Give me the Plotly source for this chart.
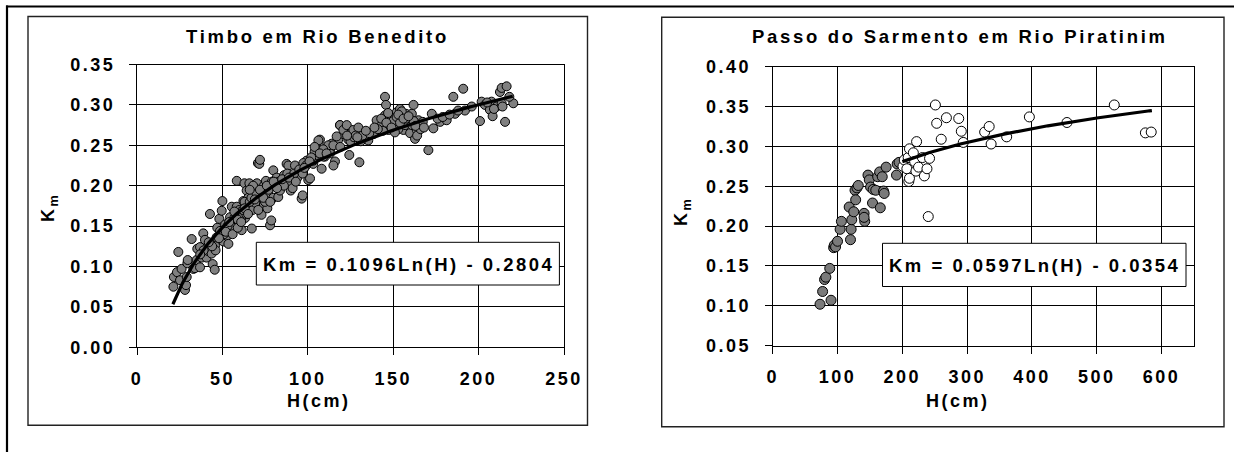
import numpy as np
import plotly.graph_objects as go

W, H = 1234, 452

# ---------------- Left chart: Timbo em Rio Benedito ----------------
left_h = [21.3, 21.6, 23.4, 24.2, 25.2, 26.1, 28.1, 28.7, 29.1, 29.5, 29.7, 32.0, 33.0, 33.9, 34.9,
          35.3, 36.9, 36.9, 37.9, 38.8, 39.8, 40.7, 41.7, 42.7, 43.7, 44.3, 45.5, 45.7, 46.6, 47.0,
          48.2, 48.6, 50.0, 49.6, 50.6, 51.6, 52.6, 53.5, 54.5, 55.5, 56.0, 56.8, 58.4, 58.4, 59.4,
          60.3, 61.3, 62.3, 62.9, 63.3, 64.2, 64.6, 65.2, 65.8, 67.2, 67.8, 68.6, 69.2, 70.2, 70.8,
          71.6, 72.0, 72.0, 72.9, 73.9, 74.3, 75.5, 76.3, 76.9, 77.9, 78.6, 79.8, 79.8, 80.8, 81.8,
          82.7, 83.7, 84.7, 86.1, 87.6, 88.6, 89.2, 90.0, 91.1, 91.5, 92.5, 93.9, 96.4, 97.0, 99.3,
          100.3, 103.2, 104.2, 106.1, 107.1, 108.1, 110.0, 113.0, 115.9, 117.8, 118.8, 120.8, 123.7,
          97.4, 101.3, 103.2, 106.2, 106.2, 109.1, 111.1, 114.0, 115.0, 116.9, 118.9, 120.8, 122.8,
          124.3, 124.7, 126.7, 129.6, 130.2, 133.5, 135.4, 138.4, 140.3, 142.3, 145.2, 145.8, 145.2,
          146.2, 147.2, 149.1, 150.1, 152.1, 153.0, 154.0, 155.0, 156.0, 157.5, 158.9, 159.9, 160.9,
          161.9, 162.8, 163.8, 164.8, 167.3, 170.6, 172.6, 173.5, 177.5, 181.3, 185.2, 186.2, 191.0,
          192.0, 200.8, 201.8, 203.7, 206.6, 207.6, 208.2, 210.6, 212.5, 213.5, 213.5, 215.5, 216.4,
          220.3,
          113, 112, 109, 105, 104, 102, 125, 127, 128, 131, 132, 136, 143, 148, 150, 152, 153, 155,
          157, 158, 161, 164, 166, 162, 154, 151, 147, 144, 141,
          55, 57, 58, 60, 61, 63, 64, 66, 67, 68, 70, 71, 73, 75, 77, 79, 62, 59, 53, 51, 48, 46, 44,
          42, 39, 37, 83, 86, 88, 92, 95, 97, 99, 101, 176, 179, 183, 188, 196, 205, 218,
          52, 54, 56, 57, 59, 61, 63, 65, 66, 69, 72, 74, 76, 78, 80, 82, 85, 89, 93, 98,
          104, 107, 111, 115, 119, 123, 129, 134, 139, 146, 149, 153, 156, 159, 163, 168, 209, 214]
left_km = [0.075, 0.087, 0.093, 0.118, 0.083, 0.097, 0.071, 0.077, 0.087, 0.104, 0.108, 0.134, 0.097,
           0.098, 0.108, 0.122, 0.124, 0.099, 0.111, 0.141, 0.133, 0.111, 0.119, 0.165, 0.116, 0.103,
           0.096, 0.126, 0.136, 0.148, 0.159, 0.144, 0.181, 0.169, 0.131, 0.152, 0.138, 0.128, 0.161,
           0.174, 0.145, 0.158, 0.206, 0.174, 0.152, 0.164, 0.145, 0.181, 0.203, 0.160, 0.194, 0.170,
           0.185, 0.203, 0.147, 0.170, 0.194, 0.179, 0.203, 0.228, 0.227, 0.232, 0.189, 0.164, 0.199,
           0.176, 0.206, 0.172, 0.190, 0.151, 0.157, 0.185, 0.219, 0.199, 0.210, 0.186, 0.194, 0.203,
           0.213, 0.227, 0.225, 0.203, 0.194, 0.197, 0.212, 0.225, 0.210, 0.184, 0.188, 0.231, 0.207,
           0.227, 0.236, 0.246, 0.257, 0.221, 0.236, 0.244, 0.230, 0.257, 0.275, 0.264, 0.257,
           0.228, 0.209, 0.231, 0.244, 0.256, 0.236, 0.248, 0.252, 0.225, 0.261, 0.275, 0.269, 0.275,
           0.238, 0.264, 0.269, 0.272, 0.229, 0.258, 0.256, 0.264, 0.281, 0.273, 0.310, 0.300, 0.287,
           0.281, 0.269, 0.285, 0.273, 0.291, 0.279, 0.295, 0.285, 0.269, 0.289, 0.277, 0.265, 0.289,
           0.300, 0.258, 0.269, 0.281, 0.279, 0.244, 0.289, 0.271, 0.279, 0.281, 0.310, 0.289, 0.320,
           0.293, 0.280, 0.304, 0.300, 0.294, 0.304, 0.286, 0.298, 0.316, 0.321, 0.302, 0.279, 0.323,
           0.302,
           0.240, 0.250, 0.245, 0.238, 0.242, 0.235, 0.255, 0.260, 0.262, 0.255, 0.262, 0.265, 0.283,
           0.275, 0.280, 0.285, 0.270, 0.292, 0.275, 0.283, 0.275, 0.262, 0.270, 0.280, 0.278, 0.266,
           0.290, 0.268, 0.270,
           0.150, 0.160, 0.165, 0.170, 0.160, 0.180, 0.165, 0.180, 0.185, 0.200, 0.190, 0.170, 0.185,
           0.180, 0.195, 0.205, 0.170, 0.158, 0.150, 0.140, 0.135, 0.120, 0.125, 0.130, 0.120, 0.115,
           0.205, 0.200, 0.215, 0.215, 0.220, 0.215, 0.225, 0.230, 0.283, 0.285, 0.288, 0.293, 0.298,
           0.303, 0.310,
           0.143, 0.155, 0.140, 0.168, 0.148, 0.155, 0.172, 0.165, 0.195, 0.183, 0.195, 0.185, 0.200,
           0.180, 0.205, 0.197, 0.208, 0.210, 0.205, 0.222, 0.248, 0.240, 0.240, 0.250, 0.248, 0.262,
           0.260, 0.268, 0.272, 0.278, 0.272, 0.288, 0.283, 0.286, 0.274, 0.272, 0.295, 0.298]
left_coef = [0.1096, -0.2804]
left_fit_range = [21, 220]
left_x_ticks = [0, 50, 100, 150, 200, 250]
left_y_ticks = [0.00, 0.05, 0.10, 0.15, 0.20, 0.25, 0.30, 0.35]

# ---------------- Right chart: Passo do Sarmento em Rio Piratinim ----------------
right_gray_h = [73, 77, 80, 82, 88, 90, 94, 95, 97, 100, 104, 106, 120, 121, 122, 118, 125, 127, 128,
                130, 132, 141, 142, 141, 147, 149, 151, 154, 155, 159, 162, 165, 166, 169, 171, 172,
                175, 191, 192, 195]
right_gray_km = [0.102, 0.118, 0.133, 0.136, 0.147, 0.107, 0.173, 0.176, 0.174, 0.181, 0.196, 0.206,
                 0.183, 0.196, 0.208, 0.224, 0.218, 0.245, 0.233, 0.248, 0.251, 0.216, 0.206, 0.211,
                 0.264, 0.258, 0.249, 0.229, 0.246, 0.245, 0.262, 0.268, 0.223, 0.262, 0.244, 0.241,
                 0.274, 0.264, 0.278, 0.280]
right_open_h = [201, 203, 207, 209, 210, 211, 211, 217, 219, 221, 222, 225, 231, 234, 238, 240, 242,
                251, 253, 260, 268, 287, 291, 294, 327, 334, 337, 361, 396, 454, 527, 575, 584]
right_open_km = [0.275, 0.283, 0.272, 0.286, 0.256, 0.260, 0.297, 0.292, 0.281, 0.269, 0.306, 0.274,
                 0.286, 0.263, 0.272, 0.212, 0.285, 0.352, 0.329, 0.309, 0.336, 0.335, 0.319, 0.305,
                 0.318, 0.325, 0.303, 0.312, 0.337, 0.330, 0.352, 0.317, 0.318]
right_coef = [0.0597, -0.0354]
right_fit_range = [200, 585]
right_x_ticks = [0, 100, 200, 300, 400, 500, 600]
right_y_ticks = [0.05, 0.10, 0.15, 0.20, 0.25, 0.30, 0.35, 0.40]

FONT = "Liberation Sans, Arial, sans-serif"
FS = 18
LS = 2.5


def sp(t, ls=LS):
    return f'<span style="letter-spacing:{ls}px">{t}</span>'


def fx(p):
    return p / W


def fy(p):
    return 1 - p / H


def fit_curve(coef, rng):
    h = np.linspace(rng[0], rng[1], 200)
    return h, coef[0] * np.log(h) + coef[1]


fig = go.Figure()

marker_gray = dict(size=9, color="#808080", line=dict(color="#000000", width=1))
marker_gray_r = dict(size=10, color="#7a7a7a", line=dict(color="#000000", width=1))
marker_open = dict(size=10, color="#ffffff", line=dict(color="#000000", width=1))

fig.add_trace(go.Scatter(x=left_h, y=left_km, mode="markers", marker=marker_gray,
                         xaxis="x", yaxis="y", showlegend=False))
lh, lk = fit_curve(left_coef, left_fit_range)
fig.add_trace(go.Scatter(x=lh, y=lk, mode="lines", line=dict(color="#000000", width=3.2),
                         xaxis="x", yaxis="y", showlegend=False))

fig.add_trace(go.Scatter(x=right_gray_h, y=right_gray_km, mode="markers", marker=marker_gray_r,
                         xaxis="x2", yaxis="y2", showlegend=False))
fig.add_trace(go.Scatter(x=right_open_h, y=right_open_km, mode="markers", marker=marker_open,
                         xaxis="x2", yaxis="y2", showlegend=False))
rh, rk = fit_curve(right_coef, right_fit_range)
fig.add_trace(go.Scatter(x=rh, y=rk, mode="lines", line=dict(color="#000000", width=3.2),
                         xaxis="x2", yaxis="y2", showlegend=False))

axis_common = dict(showgrid=True, gridcolor="#000000", gridwidth=1, showline=True, mirror=True,
                   linecolor="#000000", linewidth=1, ticks="outside", ticklen=7, tickcolor="#000000",
                   tickwidth=1, zeroline=False, tickmode="array", automargin=False,
                   tickfont=dict(family=FONT, size=FS, color="#000000", weight="bold"))

fig.update_layout(
    width=W, height=H, margin=dict(l=0, r=0, t=0, b=0, pad=0), autosize=False,
    paper_bgcolor="#ffffff", plot_bgcolor="#ffffff",
    xaxis=dict(axis_common, domain=[fx(137), fx(564)], range=[0, 250], anchor="y",
               tickvals=left_x_ticks, ticktext=[sp(str(v)) for v in left_x_ticks],
               ticklabelstandoff=8),
    yaxis=dict(axis_common, domain=[fy(347.3), fy(64.5)], range=[0, 0.35], anchor="x",
               tickvals=left_y_ticks, ticktext=[sp(f"{v:.2f}") for v in left_y_ticks],
               ticklabelstandoff=10),
    xaxis2=dict(axis_common, domain=[fx(772.7), fx(1194)], range=[0, 650], anchor="y2",
                tickvals=right_x_ticks, ticktext=[sp(str(v)) for v in right_x_ticks],
                ticklabelstandoff=8),
    yaxis2=dict(axis_common, domain=[fy(345.7), fy(66.7)], range=[0.05, 0.40], anchor="x2",
                tickvals=right_y_ticks, ticktext=[sp(f"{v:.2f}") for v in right_y_ticks],
                ticklabelstandoff=10),
)

shapes = []
# outer frame (top and left lines)
shapes.append(dict(type="line", xref="paper", yref="paper", x0=fx(6), x1=fx(1234), y0=fy(6.5), y1=fy(6.5),
                   line=dict(color="#000000", width=2.2)))
shapes.append(dict(type="line", xref="paper", yref="paper", x0=fx(7), x1=fx(7), y0=fy(5.5), y1=fy(452),
                   line=dict(color="#000000", width=2.2)))
# chart boxes
shapes.append(dict(type="rect", xref="paper", yref="paper", x0=fx(28), x1=fx(587.5), y0=fy(425.3), y1=fy(16.5),
                   line=dict(color="#222222", width=1.4)))
shapes.append(dict(type="rect", xref="paper", yref="paper", x0=fx(661.7), x1=fx(1224), y0=fy(426.7), y1=fy(17.3),
                   line=dict(color="#222222", width=1.4)))
# equation boxes
shapes.append(dict(type="rect", xref="paper", yref="paper", x0=fx(256.3), x1=fx(559.4), y0=fy(285), y1=fy(242.3),
                   line=dict(color="#000000", width=1), fillcolor="#ffffff", layer="above"))
shapes.append(dict(type="rect", xref="paper", yref="paper", x0=fx(882.5), x1=fx(1186), y0=fy(286.5), y1=fy(243.3),
                   line=dict(color="#000000", width=1), fillcolor="#ffffff", layer="above"))
fig.update_layout(shapes=shapes)

tfont = dict(family=FONT, size=FS, color="#000000", weight="bold")
ann = []


def add_text(text, x, y, angle=0, size=FS):
    ann.append(dict(text=text, x=fx(x), y=fy(y), xref="paper", yref="paper", showarrow=False,
                    xanchor="center", yanchor="middle", textangle=angle,
                    font=dict(tfont, size=size)))


add_text(sp("Timbo em Rio Benedito", 2.7), 318, 37, size=18.5)
add_text(sp("Passo do Sarmento em Rio Piratinim", 2.7), 960, 37, size=18.5)
add_text(sp("H(cm)"), 319, 401)
add_text(sp("H(cm)"), 958, 401)
add_text(sp("K<sub>m</sub>"), 49, 208, angle=-90)
add_text(sp("K<sub>m</sub>"), 682, 212, angle=-90)
add_text(sp("Km = 0.1096Ln(H) - 0.2804", 2.5), 408, 264, size=18.5)
add_text(sp("Km = 0.0597Ln(H) - 0.0354", 2.5), 1034, 265, size=18.5)
fig.update_layout(annotations=ann)

fig.write_html("out.html")
